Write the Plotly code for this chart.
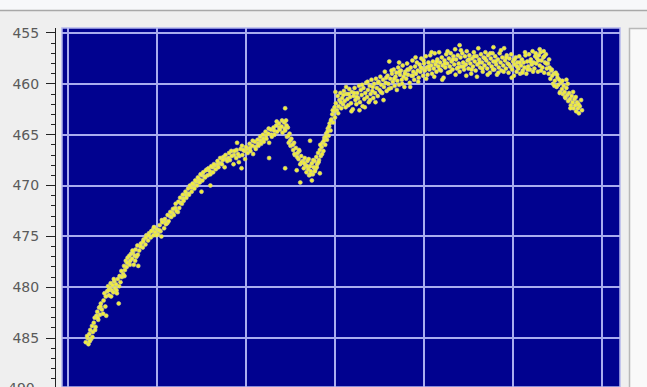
import plotly.graph_objects as go

# ---------------- data (x in sample units, y reversed scale) ----------------
seg_rise_low = [
    (20, 485.4), (22, 485.0), (23, 485.6), (24, 484.6), (25, 484.2), (26, 485.1), (27, 483.8),
    (28, 484.4), (29, 483.5), (30, 483.0), (31, 483.9), (32, 482.8), (33, 482.4), (34, 483.2),
    (35, 482.0), (36, 482.7), (37, 481.6), (38, 482.2), (40, 481.3), (41, 480.6), (42, 481.9),
    (44, 480.4), (45, 479.9), (46, 480.8), (47, 480.1), (48, 479.6), (49, 480.3), (50, 479.8),
    (51, 480.5), (52, 479.4), (53, 480.1), (54, 479.7), (55, 480.6), (56, 479.2), (58, 478.9),
    (59, 479.5), (60, 478.4), (62, 478.7), (63, 477.9), (64, 478.3), (65, 477.4), (66, 478.0),
    (67, 477.1), (68, 477.6), (69, 476.9), (70, 477.4), (71, 476.7), (72, 477.2), (73, 476.6),
    (74, 477.8), (75, 476.9), (76, 476.3), (77, 477.0), (78, 475.9), (80, 476.4), (82, 475.7),
    (84, 476.1), (85, 475.3), (87, 475.8), (88, 474.9), (90, 475.4), (91, 474.7), (93, 475.1),
    (95, 474.4), (96, 474.9), (97, 474.1), (98, 474.6), (100, 474.3), (101, 474.8), (103, 473.9),
    (104, 474.5), (105, 475.0), (57, 481.6), (79, 477.9), (43, 482.8),
]

seg_rise_high = [
    (106, 473.6), (108, 474.2), (109, 473.3), (110, 473.8), (112, 472.9), (113, 473.5), (115, 472.6),
    (116, 473.1), (118, 472.3), (119, 472.9), (121, 471.8), (122, 472.5), (124, 471.6), (125, 472.2),
    (126, 471.2), (128, 471.8), (129, 470.9), (130, 471.5), (132, 470.6), (133, 471.2), (135, 470.3),
    (136, 470.9), (137, 470.0), (139, 470.6), (140, 469.8), (142, 470.3), (143, 469.5), (145, 470.0),
    (146, 469.2), (148, 469.7), (149, 468.9), (151, 469.5), (152, 468.7), (154, 469.2), (155, 468.5),
    (157, 469.0), (158, 468.3), (160, 468.9), (161, 468.1), (163, 468.7), (164, 467.9), (166, 468.4),
    (168, 467.6), (169, 468.2), (171, 467.3), (173, 467.9), (174, 467.5), (176, 468.2), (177, 467.0),
    (179, 467.6), (181, 466.8), (182, 467.5), (184, 467.1), (186, 467.9), (187, 466.6), (189, 467.3),
    (191, 466.9), (192, 467.7), (194, 466.4), (196, 467.0), (197, 466.5), (199, 467.4), (200, 466.2),
    (202, 466.8), (204, 465.9), (205, 466.6), (207, 466.1), (208, 466.9), (210, 465.7), (211, 466.4),
    (213, 465.5), (214, 466.1), (216, 465.2), (217, 465.9), (219, 465.0), (220, 465.7), (222, 464.7),
    (223, 465.4), (225, 464.9), (226, 465.8), (228, 464.5), (229, 465.2), (231, 464.3), (232, 465.0),
    (234, 464.1), (235, 464.7), (237, 463.9), (238, 464.5), (240, 464.2), (241, 464.8), (243, 463.8),
    (190, 465.8), (226, 467.3), (160, 470.0), (195, 468.3), (150, 470.6),
]

seg_rise_extra = [
    (21.5, 484.8), (24.5, 485.3), (27.5, 484.9), (30.5, 484.2), (33.5, 483.0), (36.5, 481.9),
    (39.5, 482.6), (42.5, 480.9), (45.5, 480.3), (48.5, 480.9), (51.5, 479.2), (54.5, 480.3),
    (57.5, 479.9), (60.5, 479.0), (63.5, 478.9), (66.5, 477.6), (69.5, 477.8), (72.5, 476.4),
    (75.5, 477.4), (78.5, 476.8), (81.5, 476.0), (84.5, 475.5), (87.5, 475.1), (90.5, 474.9),
    (93.5, 474.5), (96.5, 474.1), (99.5, 474.9), (102.5, 474.4), (105.5, 473.4), (108.5, 473.5),
    (111.5, 473.7), (114.5, 473.0), (117.5, 472.7), (120.5, 472.2), (123.5, 472.6), (126.5, 471.7),
    (129.5, 471.3), (132.5, 470.9), (135.5, 470.8), (138.5, 470.2), (141.5, 469.9), (144.5, 469.6),
    (147.5, 469.4), (150.5, 469.0), (153.5, 469.1), (156.5, 468.4), (159.5, 468.6), (162.5, 468.2),
    (165.5, 468.0), (168.5, 467.9), (171.5, 467.8), (174.5, 467.2), (177.5, 467.4), (180.5, 467.3),
    (183.5, 466.6), (186.5, 467.0), (189.5, 466.5), (192.5, 467.1), (195.5, 466.1), (198.5, 466.6),
    (201.5, 466.4), (204.5, 466.3), (207.5, 465.6), (210.5, 466.2), (213.5, 465.9), (216.5, 465.6),
    (219.5, 465.4), (222.5, 465.1), (225.5, 464.4), (228.5, 465.0), (231.5, 464.6), (234.5, 463.7),
    (237.5, 464.3), (240.5, 463.6), (243.5, 464.4),
]

seg_loop = [
    (244, 464.6), (245, 463.6), (246, 465.2), (247, 464.3), (248, 465.8), (249, 464.9), (250, 466.1),
    (251, 465.4), (253, 466.5), (254, 465.8), (255, 467.0), (256, 466.3), (258, 466.8), (259, 467.4),
    (260, 466.6), (261, 467.9), (262, 467.1), (264, 467.6), (265, 468.3), (266, 467.3), (267, 468.0),
    (268, 468.7), (269, 467.6), (270, 468.4), (271, 469.0), (272, 468.1), (273, 468.6), (274, 467.8),
    (275, 468.9), (276, 468.2), (277, 467.6), (278, 468.4), (279, 467.2), (280, 467.9), (281, 466.8),
    (282, 467.5), (283, 466.5), (284, 467.1), (285, 466.2), (286, 465.8), (287, 466.6), (288, 465.3),
    (289, 466.0), (290, 464.9), (291, 465.5), (292, 464.4), (293, 465.1), (294, 463.9), (295, 464.6),
    (296, 463.5), (297, 463.0), (298, 463.8), (299, 462.7), (300, 463.3),
    (244, 462.4), (244, 468.3), (261, 469.7), (274, 469.5), (272, 465.6), (257, 468.5), (283, 468.8),
    (245.5, 464.1), (247.5, 465.1), (249.5, 465.6), (252.5, 466.0), (254.5, 466.9), (257.5, 467.2),
    (259.5, 466.5), (262.5, 467.7), (265.5, 467.8), (268.5, 468.1), (270.5, 467.4), (272.5, 468.9),
    (275.5, 467.5), (277.5, 468.6), (279.5, 468.2), (281.5, 467.7), (283.5, 466.0), (285.5, 466.9),
    (287.5, 465.6), (289.5, 465.2), (291.5, 464.7), (293.5, 464.2), (295.5, 463.6), (297.5, 462.6),
    (299.5, 462.3),
]

seg_plateau = [
    (301, 461.9), (302, 462.6), (303, 461.2), (304, 462.2), (305, 461.6), (306, 460.9), (307, 462.4),
    (308, 461.4), (309, 462.0), (310, 460.7), (311, 461.7), (312, 462.3), (313, 461.0), (314, 461.5),
    (315, 462.1), (316, 460.5), (317, 461.3), (318, 461.9), (319, 460.8), (320, 462.5), (321, 461.2),
    (322, 460.4), (323, 461.6), (324, 462.0), (325, 460.9), (326, 461.4), (327, 460.2), (328, 461.8),
    (329, 460.6), (330, 461.1), (331, 462.2), (332, 460.4), (333, 461.5), (334, 460.9), (335, 459.9),
    (336, 461.3), (337, 460.6), (338, 461.8), (339, 460.2), (340, 461.0), (341, 459.6), (342, 460.7),
    (343, 461.4), (344, 460.0), (345, 460.9), (346, 459.5), (347, 460.4), (348, 461.2), (349, 459.8),
    (350, 460.6), (351, 459.3), (352, 460.1), (353, 460.9), (354, 459.6), (355, 460.3), (356, 458.8),
    (357, 459.9), (358, 460.7), (359, 459.2), (360, 460.0), (361, 457.8), (362, 459.5), (363, 460.4),
    (364, 459.0), (365, 459.8), (366, 458.6), (367, 460.2), (368, 459.3), (369, 458.9), (370, 459.7),
    (371, 458.4), (372, 460.1), (373, 459.1), (374, 458.7), (375, 459.6), (376, 458.2), (377, 459.3),
    (378, 460.3), (379, 458.8), (380, 459.5), (381, 458.0), (382, 459.1), (383, 458.6), (384, 459.9),
    (385, 458.4), (386, 459.2), (387, 457.7), (388, 458.8), (389, 459.6), (390, 458.3), (391, 459.0),
    (392, 457.9), (393, 458.7), (394, 459.4), (395, 458.1), (396, 458.8), (397, 457.5), (398, 458.5),
    (399, 459.2), (400, 458.0), (401, 458.7), (402, 457.3), (403, 458.4), (404, 459.1), (405, 457.9),
    (406, 458.6), (407, 457.2), (408, 458.2), (409, 459.0), (410, 457.8), (411, 458.5), (412, 457.0),
    (413, 458.1), (414, 458.8), (415, 457.6), (416, 458.3), (417, 456.9), (418, 457.9), (419, 458.7),
    (420, 457.4), (421, 458.2), (422, 459.4), (423, 457.7), (424, 458.4), (425, 457.1), (426, 458.0),
    (427, 458.9), (428, 457.5), (429, 458.3), (430, 457.0), (431, 457.8), (432, 458.6), (433, 457.3),
    (434, 458.1), (435, 456.6), (436, 457.6), (437, 458.5), (438, 457.2), (439, 458.0), (440, 458.8),
    (441, 457.4), (442, 458.3), (443, 457.0), (444, 457.9), (445, 458.6), (446, 457.3), (447, 458.1),
    (448, 456.8), (449, 457.7), (450, 458.5), (451, 457.2), (452, 458.0), (453, 459.0), (454, 457.5),
    (455, 458.3), (456, 456.9), (457, 457.8), (458, 458.7), (459, 457.3), (460, 458.1), (461, 456.5),
    (462, 457.6), (463, 458.4), (464, 457.1), (465, 457.9), (466, 458.8), (467, 457.4), (468, 458.2),
    (469, 456.9), (470, 457.7), (471, 458.5), (472, 457.2), (473, 458.0), (474, 458.9), (475, 457.5),
    (476, 458.3), (477, 457.0), (478, 457.8), (479, 458.6), (480, 457.3), (481, 458.1), (482, 459.1),
    (483, 457.6), (484, 458.4), (485, 457.0), (486, 457.9), (487, 458.7), (488, 457.4), (489, 458.2),
    (490, 456.5), (491, 457.7), (492, 458.5), (493, 457.2), (494, 458.0), (495, 458.9), (496, 457.5),
    (497, 458.3), (498, 457.1), (499, 458.6), (500, 457.8), (501, 459.2), (502, 458.1), (503, 457.4),
    (504, 458.8), (505, 457.9), (506, 458.5), (507, 457.3), (508, 459.0), (509, 458.2), (510, 457.6),
    (511, 458.7), (512, 457.9), (513, 458.4), (514, 457.2), (515, 459.0), (516, 457.8), (517, 458.3),
    (518, 457.1), (519, 458.6), (520, 457.6), (521, 458.1), (522, 456.8), (523, 457.9), (524, 458.5),
    (525, 457.3), (526, 458.0), (527, 457.5), (528, 458.8), (529, 457.2), (530, 458.2), (531, 456.9),
    (532, 457.7), (533, 458.4), (534, 457.4), (535, 458.9), (536, 457.9), (537, 457.1), (538, 458.5),
    (539, 458.0), (540, 459.0), (541, 458.4), (542, 459.5), (543, 458.7), (544, 459.2), (545, 460.0),
    (546, 459.0), (547, 459.7), (548, 458.9), (549, 460.3), (550, 459.4), (551, 460.1), (552, 459.6),
    (553, 460.8), (554, 459.9), (555, 460.5), (556, 461.0), (557, 460.2), (558, 460.8), (559, 461.4),
    (560, 460.4), (561, 461.1), (562, 461.7), (563, 460.9), (564, 461.5), (565, 462.1), (566, 461.2),
    (567, 461.8), (568, 462.4), (569, 461.5), (570, 462.1), (571, 462.7), (572, 461.8), (573, 462.4),
    (574, 462.9), (575, 462.2),
    (440, 456.2), (478, 456.4), (530, 456.6), (372, 457.9), (535, 457.3), (560, 459.6),
]

seg_plateau_extra = [
    (300.5, 460.8), (303.5, 462.9), (306.5, 461.8), (309.5, 461.1), (312.5, 460.3), (315.5, 461.0),
    (318.5, 462.7), (321.5, 460.9), (324.5, 461.3), (327.5, 462.6), (330.5, 460.1), (333.5, 462.3),
    (336.5, 459.8), (339.5, 461.6), (342.5, 460.3), (345.5, 461.8), (348.5, 459.9), (351.5, 460.8),
    (354.5, 461.6), (357.5, 459.4), (360.5, 460.5), (363.5, 458.7), (366.5, 459.5), (369.5, 460.6),
    (372.5, 458.8), (375.5, 460.0), (378.5, 459.0), (381.5, 458.6), (384.5, 460.3), (387.5, 459.2),
    (390.5, 457.4), (393.5, 459.8), (396.5, 458.4), (399.5, 457.7), (402.5, 459.5), (405.5, 458.3),
    (408.5, 456.9), (411.5, 459.3), (414.5, 457.8), (417.5, 458.6), (420.5, 459.6), (423.5, 458.0),
    (426.5, 456.8), (429.5, 458.8), (432.5, 457.6), (435.5, 459.1), (438.5, 458.4), (441.5, 456.7),
    (444.5, 458.3), (447.5, 459.2), (450.5, 457.6), (453.5, 458.6), (456.5, 457.3), (459.5, 459.3),
    (462.5, 457.9), (465.5, 458.5), (468.5, 457.5), (471.5, 459.1), (474.5, 457.0), (477.5, 458.6),
    (480.5, 457.8), (483.5, 458.9), (486.5, 456.7), (489.5, 458.8), (492.5, 457.4), (495.5, 458.1),
    (498.5, 459.4), (501.5, 457.6), (504.5, 458.3), (507.5, 457.9), (510.5, 458.9), (513.5, 456.9),
    (516.5, 458.6), (519.5, 457.8), (522.5, 458.8), (525.5, 457.0), (528.5, 457.7), (531.5, 458.7),
    (534.5, 456.8), (537.5, 458.0), (540.5, 457.6), (543.5, 458.6), (546.5, 460.2), (549.5, 459.1),
    (552.5, 460.9), (555.5, 459.7), (558.5, 461.3), (561.5, 460.0), (564.5, 462.4), (567.5, 460.8),
    (570.5, 461.3), (573.5, 462.0), (576.5, 461.6), (577.5, 462.6),
]

y_major_ticks = [455, 460, 465, 470, 475, 480, 485]
x_grid_vals = [0, 100, 200, 300, 400, 500, 600]

# ---------------- build ----------------
all_pts = (seg_rise_low + seg_rise_extra + seg_rise_high + seg_loop
           + seg_plateau + seg_plateau_extra)
xs = [p[0] for p in all_pts]
ys = [p[1] for p in all_pts]

W, H = 647, 387
ML, MR, MT, MB = 55, 27, 28, 0
plot_w = W - ML - MR
plot_h = H - MT - MB


def px_x(px):
    return (px - ML) / plot_w


def px_y(py):
    return 1 - (py - MT) / plot_h


fig = go.Figure()
fig.add_trace(go.Scatter(
    x=xs, y=ys, mode="markers",
    marker=dict(size=4, color="#f2ee3a", line=dict(width=0.6, color="#cfcd9a")),
    hoverinfo="skip", showlegend=False,
))

grid_col = "#a9acee"
fig.update_layout(
    width=W, height=H,
    margin=dict(l=ML, r=MR, t=MT, b=MB, pad=0),
    paper_bgcolor="#efefef",
    plot_bgcolor="#01028f",
    xaxis=dict(
        domain=[px_x(62), 1], range=[-6.7, 620.2],
        tickvals=x_grid_vals, showticklabels=False, ticks="",
        showgrid=True, gridcolor=grid_col, gridwidth=1.5,
        zeroline=False, showline=False, fixedrange=True,
    ),
    yaxis=dict(
        anchor="free", position=0,
        range=[489.81, 454.51],
        tickvals=y_major_ticks,
        ticks="outside", ticklen=9, tickwidth=1, tickcolor="#222",
        showline=True, linecolor="#222", linewidth=1,
        showgrid=True, gridcolor=grid_col, gridwidth=1.5,
        zeroline=False,
        tickfont=dict(family="DejaVu Sans", size=14, color="#5a5a5a"),
        ticklabelstandoff=4,
        minor=dict(dtick=1, tick0=455, ticks="outside", ticklen=4, tickcolor="#222",
                   tickwidth=1, showgrid=False),
        fixedrange=True,
    ),
)

# window chrome: top strip + line, right side panel, plot frame
fig.add_shape(type="rect", xref="paper", yref="paper",
              x0=px_x(-5), x1=px_x(W + 5), y0=px_y(10.5), y1=px_y(-5),
              fillcolor="#f7f8fa", line=dict(width=0), layer="below")
fig.add_shape(type="line", xref="paper", yref="paper",
              x0=px_x(-5), x1=px_x(W + 5), y0=px_y(10.5), y1=px_y(10.5),
              line=dict(color="#a8a8a8", width=1.5))
fig.add_shape(type="rect", xref="paper", yref="paper",
              x0=px_x(629.5), x1=px_x(W + 10), y0=px_y(H + 10), y1=px_y(28.5),
              fillcolor="#f9f9f9", line=dict(color="#b8b8b8", width=1.5))
fig.add_shape(type="rect", xref="x domain", yref="y domain",
              x0=0, x1=1, y0=0, y1=1,
              line=dict(color="#b5b8ee", width=1.5), layer="above")

# partially visible bottom label (cut by the window edge, as in the reference)
fig.add_annotation(text="490", xref="paper", yref="paper",
                   x=px_x(37), y=px_y(388), xanchor="right", yanchor="middle",
                   showarrow=False,
                   font=dict(family="DejaVu Sans", size=14, color="#5a5a5a"))

fig.write_html(
    "out.html",
    config={"displayModeBar": False},
    post_script="document.body.style.margin='0';document.body.style.background='#efefef';",
)
